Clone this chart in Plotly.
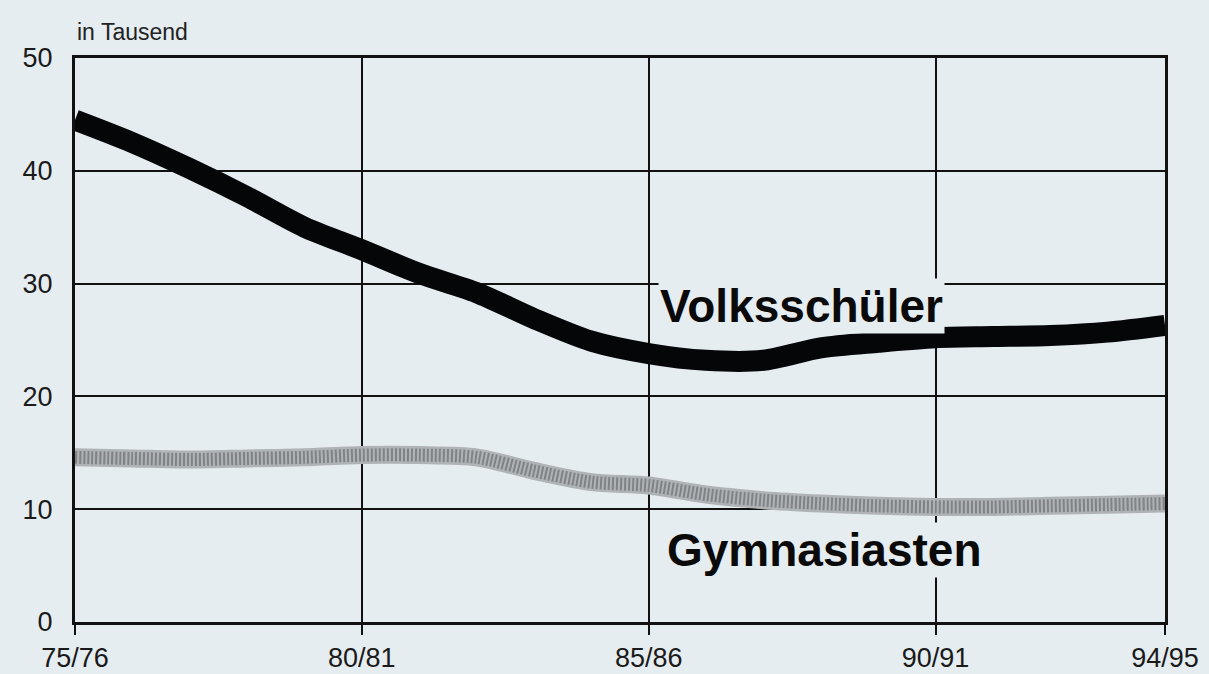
import plotly.graph_objects as go

years = list(range(1975, 1995))
volksschueler = [44.5, 42.5, 40.2, 37.7, 35.0, 33.0, 30.9, 29.2, 26.9, 24.9,
                 23.8, 23.2, 23.2, 24.3, 24.8, 25.2, 25.3, 25.4, 25.7, 26.3]
gymnasiasten = [14.6, 14.5, 14.4, 14.5, 14.6, 14.8, 14.8, 14.6, 13.4, 12.4,
                12.1, 11.3, 10.8, 10.5, 10.3, 10.2, 10.2, 10.3, 10.4, 10.5]
tick_vals = [1975, 1980, 1985, 1990, 1994]
tick_text = ["75/76", "80/81", "85/86", "90/91", "94/95"]
y_ticks = [0, 10, 20, 30, 40, 50]

BG = "#e6edf0"
FONT = "Liberation Sans, Arial, sans-serif"

fig = go.Figure()
fig.add_trace(go.Scatter(x=years, y=gymnasiasten, mode="lines",
                         line=dict(color="#b0b3b5", width=18, shape="spline", smoothing=0.8),
                         name="Gymnasiasten", showlegend=False, hoverinfo="skip"))
fig.add_trace(go.Scatter(x=years, y=gymnasiasten, mode="lines",
                         line=dict(color="#808386", width=13, shape="spline", smoothing=0.8, dash="2px,2px"),
                         showlegend=False, hoverinfo="skip"))
fig.add_trace(go.Scatter(x=years, y=volksschueler, mode="lines",
                         line=dict(color="#050608", width=21, shape="spline", smoothing=0.8),
                         name="Volksschüler", showlegend=False, hoverinfo="skip"))

fig.update_layout(
    width=1209, height=674,
    paper_bgcolor=BG, plot_bgcolor=BG,
    margin=dict(l=75, r=44, t=58, b=52, autoexpand=False),
    font=dict(family=FONT, color="#222"),
    xaxis=dict(range=[1975, 1994], tickvals=tick_vals, ticktext=tick_text,
               showgrid=True, gridcolor="#111", gridwidth=2, automargin=False,
               showline=True, linecolor="#111", linewidth=3, mirror=True,
               ticks="outside", ticklen=10, tickwidth=2, tickcolor="#111",
               tickfont=dict(size=27, family=FONT, color="#1a1a1a"), zeroline=False),
    yaxis=dict(range=[0, 50], tickvals=y_ticks, automargin=False,
               showgrid=True, gridcolor="#111", gridwidth=2,
               showline=True, linecolor="#111", linewidth=3, mirror=True,
               ticks="", ticklabelstandoff=14,
               tickfont=dict(size=27, family=FONT, color="#1a1a1a"), zeroline=False),
    annotations=[
        dict(text="in Tausend", xref="paper", yref="paper", x=0.0, y=1.0, yshift=26,
             xanchor="left", yanchor="middle", showarrow=False,
             font=dict(size=23, family=FONT, color="#222")),
        dict(text="<b>Volksschüler</b>", x=1987.67, y=28.0, xref="x", yref="y",
             showarrow=False, bgcolor=BG, borderpad=1,
             font=dict(size=46, family=FONT, color="#0a0a0a")),
        dict(text="<b>Gymnasiasten</b>", x=1988.06, y=6.4, xref="x", yref="y",
             showarrow=False, bgcolor=BG, borderpad=1,
             font=dict(size=46, family=FONT, color="#0a0a0a")),
    ],
)

fig.write_html("out.html", config={"displayModeBar": False},
               post_script="document.body.style.margin='0';document.body.style.background='" + BG + "';")
